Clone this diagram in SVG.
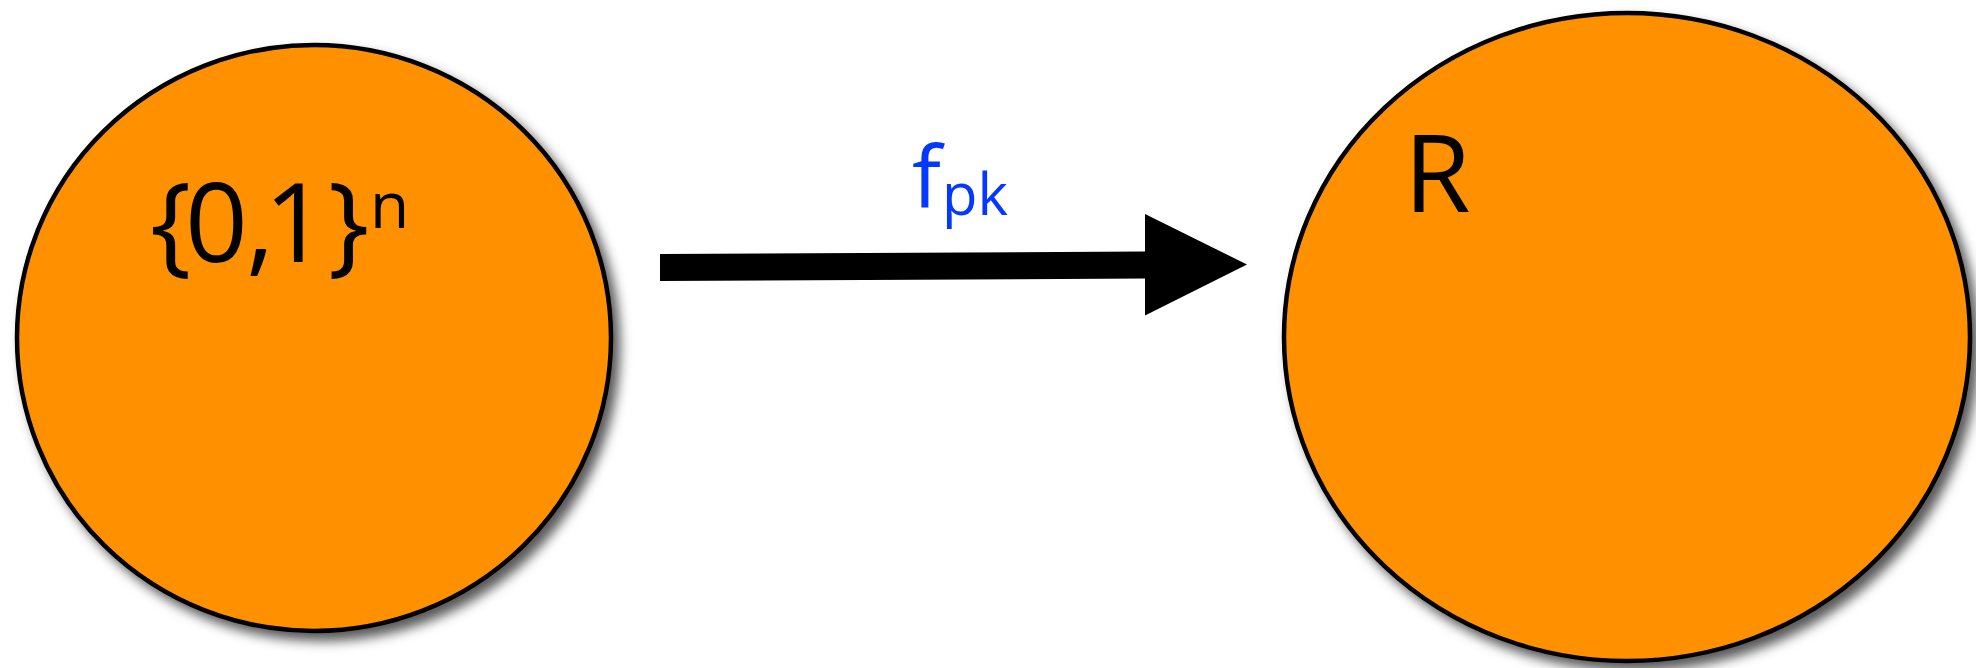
<svg xmlns="http://www.w3.org/2000/svg" width="1976" height="668" viewBox="0 0 1976 668">
<defs>
<filter id="sh" x="-10%" y="-10%" width="125%" height="125%">
<feDropShadow dx="7" dy="8" stdDeviation="6" flood-color="#000" flood-opacity="0.65"/>
</filter>
</defs>
<style>
.node{fill:#FF9100;stroke:#000;stroke-width:4.5;filter:url(#sh)}
.lbl{font-family:"Open Sans","DejaVu Sans",sans-serif;fill:#000}
.blue{font-family:"Open Sans","DejaVu Sans",sans-serif;fill:#0537ff}
</style>
<rect width="1976" height="668" fill="#fff"/>
<g id="node-bits">
<ellipse class="node" cx="314" cy="338" rx="297" ry="293"/>
<text class="lbl" font-size="110" x="150 185 246 264 328" y="262">{0,1}</text>
<text class="lbl" font-size="64" x="370" y="228">n</text>
</g>
<g id="node-R">
<ellipse class="node" cx="1627" cy="337" rx="343" ry="324"/>
<text class="lbl" font-size="108" x="1404" y="212">R</text>
</g>
<g id="connectors">
<polygon points="660,254 1145,251.5 1145,214 1247,264.5 1145,315.5 1145,278.5 660,281" fill="#000"/>
<text class="blue" font-size="86" x="912" y="208">f</text>
<text class="blue" font-size="58" x="942" y="215">pk</text>
</g>
</svg>
